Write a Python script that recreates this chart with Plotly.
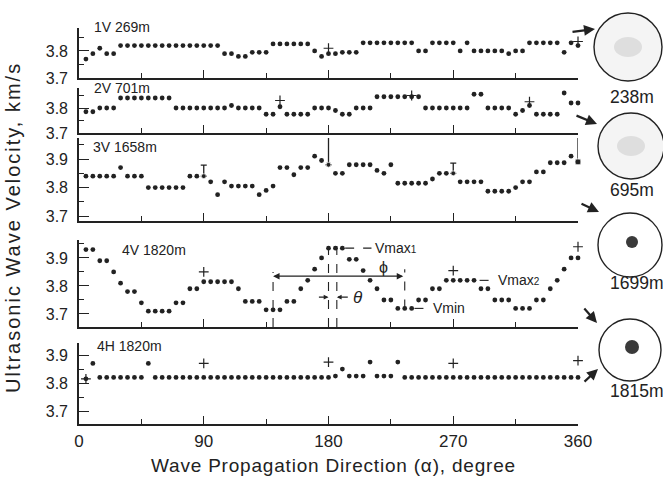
import plotly.graph_objects as go

W, H = 663, 477

ANGLES = list(range(5, 365, 5))

V_1V = [3.77, 3.79, 3.81, 3.79, 3.79,
        3.82, 3.82, 3.82, 3.82, 3.82, 3.82, 3.82, 3.82, 3.82, 3.82, 3.82, 3.82, 3.82, 3.82, 3.82,
        3.79, 3.79, 3.78, 3.78,
        3.795, 3.795, 3.795,
        3.826, 3.826, 3.826, 3.826, 3.826, 3.826,
        3.80, 3.78,
        3.79,
        3.79, 3.795, 3.795, 3.795,
        3.83, 3.83, 3.83, 3.83, 3.83, 3.83, 3.83, 3.83,
        3.80, 3.80,
        3.83, 3.83, 3.83, 3.83,
        3.80,
        3.83,
        3.80, 3.80, 3.80, 3.80, 3.80,
        3.79,
        3.80, 3.80,
        3.83, 3.83, 3.83, 3.83, 3.83,
        3.795, 3.83, 3.82]

V_2V = [3.785, 3.785, 3.80, 3.80, 3.80,
        3.84, 3.84, 3.84, 3.84, 3.84, 3.84, 3.84, 3.84,
        3.80, 3.80, 3.80, 3.80, 3.80, 3.80, 3.80, 3.80,
        3.81, 3.80, 3.80, 3.80, 3.80,
        3.775, 3.775,
        3.805,
        3.775, 3.775, 3.775, 3.775,
        3.80, 3.80, 3.80,
        3.79,
        3.775, 3.775,
        3.80, 3.80, 3.80,
        3.845, 3.845, 3.845, 3.845, 3.845, 3.845, 3.845,
        3.80, 3.80, 3.80, 3.80, 3.80, 3.80, 3.80,
        3.855, 3.855,
        3.80, 3.80, 3.80, 3.80,
        3.775, 3.79, 3.81,
        3.775, 3.775, 3.775, 3.775,
        3.86, 3.82, 3.82]

V_3V = [3.84, 3.84, 3.84, 3.84, 3.84, 3.87, 3.84, 3.84, 3.84,
        3.80, 3.80, 3.80, 3.80, 3.80, 3.80,
        3.84, 3.84, 3.84, 3.82, 3.775, 3.82,
        3.805, 3.805, 3.805, 3.805, 3.775, 3.79, 3.805,
        3.87, 3.87, 3.845, 3.87, 3.87, 3.91, 3.895, 3.88,
        3.85, 3.85, 3.88, 3.88, 3.88, 3.88, 3.86, 3.85, 3.88,
        3.815, 3.815, 3.815, 3.815, 3.815, 3.83, 3.85, 3.85, 3.85,
        3.82, 3.82, 3.82, 3.82,
        3.787, 3.787, 3.787, 3.787, 3.80, 3.82, 3.82,
        3.855, 3.855, 3.887, 3.887, 3.887, 3.91, 3.89]

V_4V = [3.93, 3.93, 3.89, 3.89, 3.85, 3.81, 3.78, 3.78, 3.74,
        3.71, 3.71, 3.71, 3.71, 3.74, 3.74, 3.79, 3.79,
        3.815, 3.815, 3.815, 3.815, 3.815, 3.79,
        3.745, 3.745, 3.745, 3.715, 3.715, 3.715, 3.745, 3.745,
        3.79, 3.82, 3.86, 3.90, 3.935,
        3.935, 3.935, 3.895, 3.895, 3.855, 3.82, 3.79, 3.75, 3.75,
        3.72, 3.72, 3.72, 3.75, 3.75, 3.79, 3.79,
        3.82, 3.82, 3.82, 3.82, 3.82, 3.79, 3.79,
        3.75, 3.75, 3.75, 3.72, 3.72, 3.72, 3.75, 3.75,
        3.79, 3.82, 3.86, 3.90, 3.90]

V_4H = [3.815, 3.87,
        3.82, 3.82, 3.82, 3.82, 3.82, 3.82, 3.82,
        3.87,
        3.82, 3.82, 3.82, 3.82, 3.82, 3.82, 3.82, 3.82, 3.82, 3.82, 3.82, 3.82, 3.82,
        3.82, 3.82, 3.82, 3.82, 3.82, 3.82, 3.82, 3.82, 3.82, 3.82, 3.82, 3.82, 3.82,
        3.825, 3.85, 3.825, 3.825, 3.825, 3.875, 3.825, 3.825, 3.825, 3.875,
        3.82, 3.82, 3.82, 3.82, 3.82, 3.82, 3.82, 3.82, 3.82, 3.82, 3.82, 3.82, 3.82,
        3.82, 3.82, 3.82, 3.82, 3.82, 3.82, 3.82, 3.82, 3.82, 3.82, 3.82, 3.82, 3.82]

CROSS_1V_X, CROSS_1V_Y = [180, 360], [3.81, 3.835]
CROSS_2V_X, CROSS_2V_Y = [145, 240, 325], [3.83, 3.85, 3.825]
CROSS_4V_X, CROSS_4V_Y = [90, 270, 360], [3.85, 3.855, 3.94]
CROSS_4H_X, CROSS_4H_Y = [5, 90, 180, 270, 360], [3.815, 3.87, 3.875, 3.87, 3.88]
ERR_3V_X = [90, 270, 180, 360]
ERR_3V_Y = [3.84, 3.85, 3.88, 3.89]
ERR_3V_UP = [0.039, 0.036, 0.118, 0.108]

PANEL_LABELS = ["1V 269m", "2V 701m", "3V 1658m", "4V 1820m", "4H 1820m"]
CORE_LABELS = ["238m", "695m", "1699m", "1815m"]
X_TICKS = [0, 90, 180, 270, 360]

INK = "#222222"
FONT = "Liberation Sans"

def py(p):
    return 1 - p / H

def px(p):
    return p / W

# panel layout: (top px, bottom px, y-range)
PANELS = [
    (28, 78, [3.70, 3.885]),
    (88, 133, [3.70, 3.88]),
    (138, 221, [3.6825, 3.974]),
    (240, 327, [3.6536, 3.964]),
    (343, 424, [3.6536, 3.943]),
]
XDOM = [px(79), px(578)]

fig = go.Figure()
series = [V_1V, V_2V, V_3V, V_4V, V_4H]
crosses = {1: (CROSS_1V_X, CROSS_1V_Y), 2: (CROSS_2V_X, CROSS_2V_Y),
           4: (CROSS_4V_X, CROSS_4V_Y), 5: (CROSS_4H_X, CROSS_4H_Y)}

layout = {}
for i, (top, bot, yr) in enumerate(PANELS, start=1):
    sx = "" if i == 1 else str(i)
    xa, ya = "x" + sx, "y" + sx
    fig.add_trace(go.Scatter(x=ANGLES, y=series[i - 1], mode="markers", xaxis=xa, yaxis=ya,
                             marker=dict(size=4.8, color=INK), showlegend=False,
                             cliponaxis=False, hoverinfo="skip"))
    if i in crosses:
        cx, cy = crosses[i]
        fig.add_trace(go.Scatter(x=cx, y=cy, mode="markers", xaxis=xa, yaxis=ya,
                                 marker=dict(symbol="cross-thin", size=7,
                                             line=dict(color=INK, width=1.2)),
                                 showlegend=False, cliponaxis=False, hoverinfo="skip"))
    if i == 3:
        fig.add_trace(go.Scatter(x=ERR_3V_X, y=ERR_3V_Y, mode="markers", xaxis=xa, yaxis=ya,
                                 marker=dict(symbol=["circle", "circle", "circle", "square"],
                                             size=[4.8, 4.8, 4.8, 6], color=INK),
                                 error_y=dict(type="data", array=ERR_3V_UP,
                                              arrayminus=[0, 0, 0, 0], color=INK,
                                              thickness=1.3, width=3),
                                 showlegend=False, cliponaxis=False, hoverinfo="skip"))
    layout["xaxis" + sx] = dict(
        domain=XDOM, range=[0, 360], anchor=ya, showline=True, linecolor=INK, linewidth=1.6,
        ticks="inside", tickvals=X_TICKS, ticklen=8, tickwidth=1.4, tickcolor=INK,
        minor=dict(ticks="inside", tickvals=[45, 135, 225, 315], ticklen=5, tickwidth=1.2,
                   tickcolor=INK),
        showticklabels=(i == 5), showgrid=False, zeroline=False, automargin=False,
        tickfont=dict(size=17, color=INK, family=FONT), ticklabelstandoff=1)
    layout["yaxis" + sx] = dict(
        domain=[py(bot), py(top)], range=yr, anchor=xa, showline=True, linecolor=INK,
        linewidth=1.6, ticks="inside", tick0=3.7, dtick=0.1, ticklen=10, tickwidth=1.4,
        tickcolor=INK, tickformat=".1f", automargin=False,
        minor=dict(ticks="inside", tick0=3.65, dtick=0.1, ticklen=5, tickwidth=1.2,
                   tickcolor=INK),
        showgrid=False, zeroline=False,
        tickfont=dict(size=16, color=INK, family=FONT), ticklabelstandoff=6)

annotations = []

def note(text, x, y, size, xanchor="center", **kw):
    annotations.append(dict(x=px(x), y=py(y), xref="paper", yref="paper", text=text,
                            showarrow=False, xanchor=xanchor, yanchor="middle",
                            font=dict(size=size, color=INK, family=FONT), **kw))

# panel labels
label_pos = [(92, 27), (92, 88), (91, 147), (120, 250), (95, 346)]
for lab, (lx, ly) in zip(PANEL_LABELS, label_pos):
    note(lab, lx, ly, 14, xanchor="left")

# axis titles
note('<span style="letter-spacing:2px">Ultrasonic Wave Velocity, km/s</span>', 13, 228, 20,
     textangle=-90)
note('<span style="letter-spacing:0.8px">Wave Propagation Direction (\u03b1), degree</span>',
     333, 465, 19)

shapes = []
# core circles
cores = [(628, 47, 34, (632, 97)), (631, 146, 33, (632, 190)),
         (630, 245, 32, (637, 283)), (630, 350, 31, (637, 391))]
for k, (cx, cy, r, (tx, ty)) in enumerate(cores):
    shapes.append(dict(type="circle", xref="paper", yref="paper",
                       x0=px(cx - r), x1=px(cx + r), y0=py(cy + r), y1=py(cy - r),
                       line=dict(color=INK, width=1.4),
                       fillcolor="#f4f4f4" if k < 2 else "white"))
    if k >= 2:
        blob = 6 if k == 2 else 7
        shapes.append(dict(type="circle", xref="paper", yref="paper",
                           x0=px(cx + 2 - blob), x1=px(cx + 2 + blob),
                           y0=py(cy - 3 + blob), y1=py(cy - 3 - blob),
                           line=dict(width=0), fillcolor="#3a3a3a"))
    else:
        shapes.append(dict(type="circle", xref="paper", yref="paper",
                           x0=px(cx - 14), x1=px(cx + 14), y0=py(cy + 10), y1=py(cy - 10),
                           line=dict(width=0), fillcolor="#dedede"))
    note(CORE_LABELS[k], tx, ty, 17.5)

# arrows toward cores (head, tail) in px
arrows = [((595, 29), (571, 32)), ((597, 124), (575, 115)), ((599, 212), (580, 203)),
          ((597, 323), (583, 307)), ((598, 369), (583, 383))]
for (hx, hy), (tx, ty) in arrows:
    annotations.append(dict(x=px(hx), y=py(hy), xref="paper", yref="paper", text="",
                            showarrow=True, arrowhead=2, arrowsize=1, arrowwidth=2.2,
                            arrowcolor=INK, ax=tx - hx, ay=ty - hy))

# panel 4 annotations (data coordinates)
dash = dict(color=INK, width=1.1, dash="dash")
shapes += [
    dict(type="line", xref="x4", yref="y4", x0=180, x1=180, y0=3.6536, y1=4.0, line=dash),
    dict(type="line", xref="x4", yref="y4", x0=186, x1=186, y0=3.6536, y1=3.96, line=dash),
    dict(type="line", xref="x4", yref="y4", x0=140, x1=140, y0=3.6536, y1=3.85, line=dash),
    dict(type="line", xref="x4", yref="y4", x0=235, x1=235, y0=3.72, y1=3.86, line=dash),
    dict(type="line", xref="x4", yref="y4", x0=192, x1=211, y0=3.935, y1=3.935, line=dash),
    dict(type="line", xref="x4", yref="y4", x0=289, x1=301, y0=3.82, y1=3.82, line=dash),
    dict(type="line", xref="x4", yref="y4", x0=242, x1=254, y0=3.72, y1=3.72, line=dash),
]
# phi double arrow
annotations.append(dict(x=140, y=3.835, xref="x4", yref="y4", ax=235, ay=3.835,
                        axref="x4", ayref="y4", text="", showarrow=True, arrowhead=2,
                        arrowside="end+start", arrowsize=1, arrowwidth=1.3, arrowcolor=INK))
annotations.append(dict(x=220, y=3.866, xref="x4", yref="y4", text="\u03d5", showarrow=False,
                        xanchor="center", yanchor="middle",
                        font=dict(size=16, color=INK, family=FONT)))
# theta arrows
annotations.append(dict(x=180, y=3.76, xref="x4", yref="y4", ax=172, ay=3.76,
                        axref="x4", ayref="y4", text="", showarrow=True, arrowhead=2,
                        arrowsize=0.8, arrowwidth=1.2, arrowcolor=INK))
annotations.append(dict(x=186, y=3.76, xref="x4", yref="y4", ax=195, ay=3.76,
                        axref="x4", ayref="y4", text="", showarrow=True, arrowhead=2,
                        arrowsize=0.8, arrowwidth=1.2, arrowcolor=INK))
annotations.append(dict(x=196, y=3.76, xref="x4", yref="y4", text="<i>\u03b8</i>",
                        showarrow=False, xanchor="left", yanchor="middle",
                        font=dict(size=17, color=INK, family=FONT)))
SMALL = '<span style="font-size:10px">%s</span>'
for txt, xx, yy in [("Vmax" + SMALL % "1", 212, 3.935), ("Vmax" + SMALL % "2", 301, 3.82),
                    ("Vmin", 254, 3.72)]:
    annotations.append(dict(x=xx, y=yy, xref="x4", yref="y4", text=txt, showarrow=False,
                            xanchor="left", yanchor="middle",
                            font=dict(size=14, color=INK, family=FONT)))

fig.update_layout(
    width=W, height=H, autosize=False,
    margin=dict(l=0, r=0, t=0, b=0, pad=0, autoexpand=False),
    paper_bgcolor="white", plot_bgcolor="rgba(0,0,0,0)",
    showlegend=False, shapes=shapes, annotations=annotations, **layout)

fig.write_html("out.html")
